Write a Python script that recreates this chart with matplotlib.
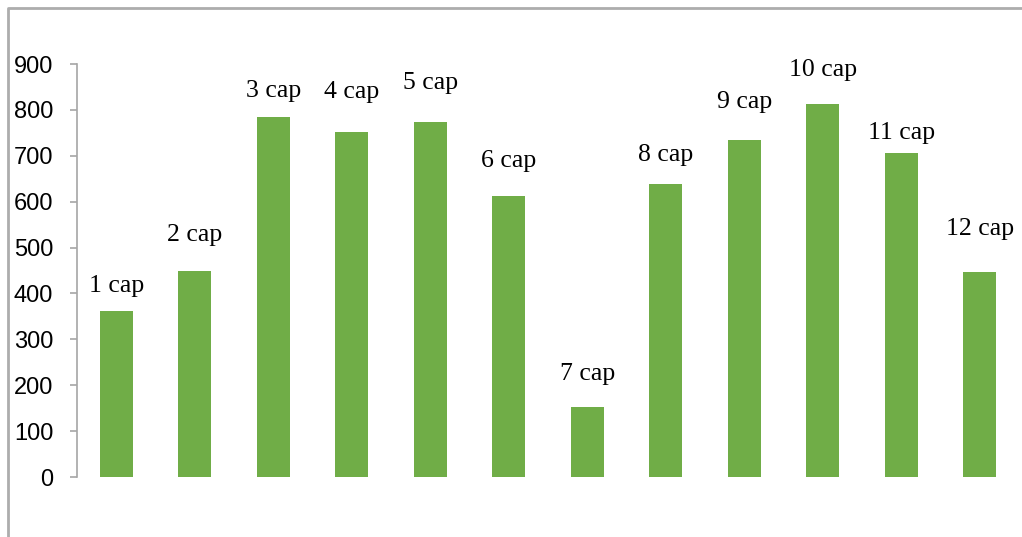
import matplotlib.pyplot as plt
from matplotlib.lines import Line2D

# chart values
labels = ['1 cap', '2 cap', '3 cap', '4 cap', '5 cap', '6 cap',
          '7 cap', '8 cap', '9 cap', '10 cap', '11 cap', '12 cap']
values = [362, 449, 784, 752, 774, 612, 153, 638, 734, 813, 706, 447]
# heights where the data labels sit (data units)
label_y = [417, 528, 842, 839, 859, 689, 225, 702, 818, 887, 750, 541]
yticks = [0, 100, 200, 300, 400, 500, 600, 700, 800, 900]

fig = plt.figure(figsize=(10.22, 5.37), dpi=100)
ax = fig.add_axes([0.0753, 0.1117, 0.9217, 0.7691])

x = list(range(len(values)))
ax.bar(x, values, width=0.42, color='#70AD47')

# data labels in a serif face
for xi, ly, lab in zip(x, label_y, labels):
    ax.text(xi, ly, lab, ha='center', va='center', fontsize=18.5,
            family='Liberation Serif', color='black')

ax.set_xlim(-0.5, len(values) - 0.5)
ax.set_ylim(0, 900)
ax.set_yticks(yticks)
ax.set_yticklabels([str(t) for t in yticks], fontsize=17, family='Liberation Sans')
ax.set_xticks([])

for side in ['top', 'right', 'bottom']:
    ax.spines[side].set_visible(False)
ax.spines['left'].set_color('#A6A6A6')
ax.spines['left'].set_linewidth(1.2)
ax.tick_params(axis='y', length=5, width=1.2, color='#A6A6A6', pad=12)

# chart area border (left and top only visible)
fig.add_artist(Line2D([8 / 1022, 8 / 1022, 1.0], [0.0, 1 - 8 / 537, 1 - 8 / 537],
                      transform=fig.transFigure, color='#ADADAD', linewidth=2))

fig.savefig('out.png', dpi=100)
